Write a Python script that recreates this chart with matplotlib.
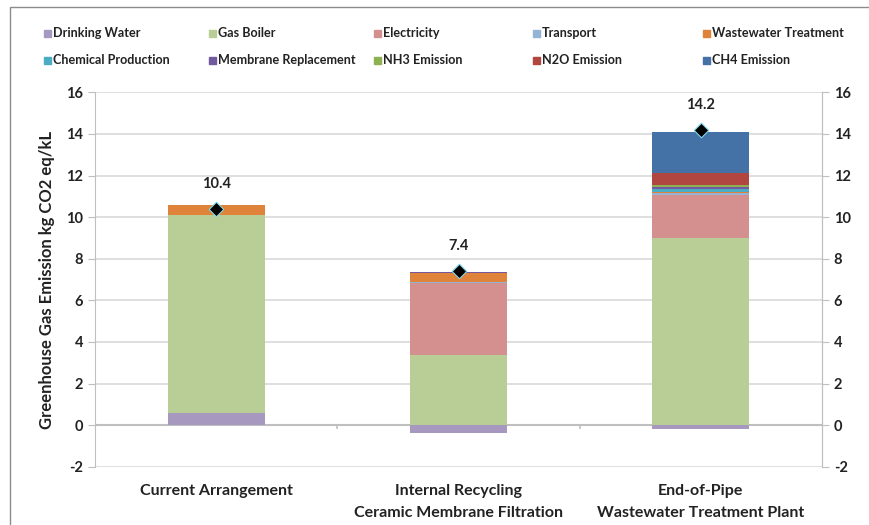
import matplotlib
matplotlib.use("Agg")
import matplotlib.pyplot as plt
import numpy as np
from matplotlib.patches import Rectangle

plt.rcParams['font.family'] = ['Lato', 'DejaVu Sans']
plt.rcParams['axes.unicode_minus'] = False

categories = ["Current Arrangement",
              "Internal Recycling\nCeramic Membrane Filtration",
              "End-of-Pipe\nWastewater Treatment Plant"]
series_names = ["Drinking Water", "Gas Boiler", "Electricity", "Transport",
                "Wastewater Treatment", "Chemical Production",
                "Membrane Replacement", "NH3 Emission", "N2O Emission",
                "CH4 Emission"]
drinking_water = [0.6, -0.4, -0.2]
gas_boiler = [9.5, 3.35, 9.0]
electricity = [0.0, 3.5, 2.05]
transport = [0.0, 0.03, 0.1]
wastewater = [0.5, 0.42, 0.08]
chemical = [0.0, 0.0, 0.12]
membrane = [0.0, 0.05, 0.1]
nh3 = [0.0, 0.0, 0.1]
n2o = [0.0, 0.0, 0.55]
ch4 = [0.0, 0.0, 2.0]
totals = [10.4, 7.4, 14.2]

colors = ["#A798BF", "#B8CE96", "#D4908F", "#95B3D7", "#E0833A",
          "#4BACC6", "#7359A0", "#8DB050", "#B0463F", "#4471A6"]

series = [drinking_water, gas_boiler, electricity, transport, wastewater,
          chemical, membrane, nh3, n2o, ch4]

fig = plt.figure(figsize=(8.69, 5.25), dpi=100)
ax = fig.add_axes([95/869, 1-466.7/525, (822-95)/869, (466.7-92.3)/525])

x = np.arange(len(categories))
pos_base = np.zeros(len(categories))
neg_base = np.zeros(len(categories))
for name, vals, c in zip(series_names, series, colors):
    vals = np.array(vals, dtype=float)
    bottoms = np.where(vals >= 0, pos_base, neg_base)
    ax.bar(x, vals, width=0.4, bottom=bottoms, color=c, label=name,
           edgecolor='none', zorder=3)
    pos_base = pos_base + np.where(vals > 0, vals, 0)
    neg_base = neg_base + np.where(vals < 0, vals, 0)

ax.scatter(x, totals, marker='D', s=55, color='black', edgecolor='#7FD6E6',
           linewidth=0.8, zorder=5)
for xi, t in zip(x, totals):
    ax.annotate(f"{t:.1f}", (xi, t), xytext=(0, 13), textcoords='offset points',
                ha='center', va='bottom', fontsize=10.5, fontweight='bold',
                color='#222222')

ax.set_xlim(-0.5, 2.5)
ax.set_ylim(-2, 16)
ax.set_yticks(np.arange(-2, 17, 2))
ax.yaxis.grid(True, color='#D9D9D9', linewidth=1.2, zorder=0)
ax.set_axisbelow(True)
for s in ['left', 'right']:
    ax.spines[s].set_color('#BFBFBF')
ax.spines['top'].set_visible(False)
ax.spines['bottom'].set_visible(False)
ax.axhline(0, color='#BFBFBF', linewidth=1.5, zorder=2)
for bx in [0.5, 1.5]:
    ax.plot([bx, bx], [0, -0.12], color='#BFBFBF', linewidth=1.2, zorder=2,
            clip_on=False)
ax.tick_params(axis='y', labelsize=10.5, colors='#BFBFBF', labelcolor='#222222',
               length=5, direction='out')
for lab in ax.get_yticklabels():
    lab.set_fontweight('bold')

ax2 = ax.twinx()
ax2.set_ylim(-2, 16)
ax2.set_yticks(np.arange(-2, 17, 2))
ax2.tick_params(axis='y', labelsize=10.5, colors='#BFBFBF', labelcolor='#222222',
                length=5, direction='out')
for lab in ax2.get_yticklabels():
    lab.set_fontweight('bold')
for s in ['top', 'bottom', 'left']:
    ax2.spines[s].set_visible(False)
ax2.spines['right'].set_color('#BFBFBF')

ax.set_xticks([])
for xi, cat in zip(x, categories):
    ax.text(xi, -2.85, cat, ha='center', va='top', fontsize=11.5,
            fontweight='bold', color='#222222', linespacing=1.65)

ax.set_ylabel("Greenhouse Gas Emission kg CO2 eq/kL", fontsize=12,
              fontweight='bold', color='#222222', labelpad=8)

# legend entries placed manually in two rows
col_x = [47, 212, 377, 536, 706]
row_y = [33, 60]
for i, (name, c) in enumerate(zip(series_names, colors)):
    r, cidx = divmod(i, 5)
    px, py = col_x[cidx], row_y[r]
    fig.patches.append(Rectangle((px/869 - 3.5/869, 1 - (py + 3.5)/525),
                                 7/869, 7/525, transform=fig.transFigure,
                                 color=c, figure=fig))
    fig.text((px + 6)/869, 1 - py/525, name, ha='left', va='center',
             fontsize=9.1, color='#222222', fontweight='bold')

# outer frame
fig.patches.append(Rectangle((10/869, -0.05), 1.0, 1 - 7/525 + 0.05,
                             transform=fig.transFigure, fill=False,
                             edgecolor='#8C8C8C', linewidth=1.0, figure=fig))

fig.savefig("out.png", dpi=100)
